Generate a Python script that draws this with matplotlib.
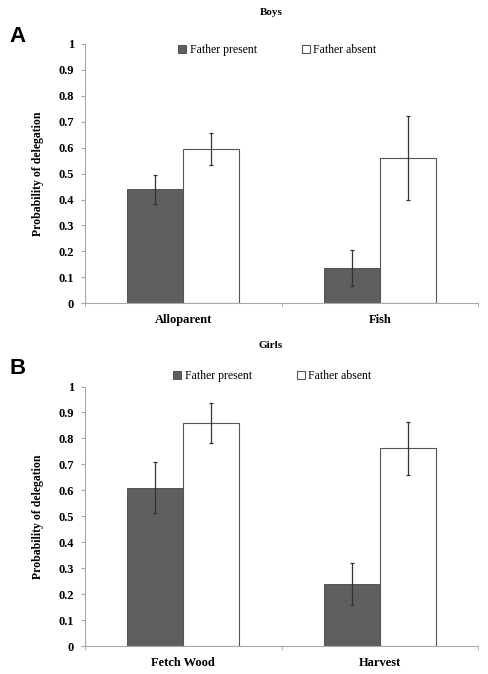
import numpy as np
import matplotlib.pyplot as plt

# Dados
cats_boys = ['Alloparent', 'Fish']
boys_present = [0.44, 0.137]
boys_present_lo = [0.383, 0.067]
boys_present_hi = [0.493, 0.205]
boys_absent = [0.595, 0.56]
boys_absent_lo = [0.533, 0.398]
boys_absent_hi = [0.655, 0.722]

cats_girls = ['Fetch Wood', 'Harvest']
girls_present = [0.61, 0.24]
girls_present_lo = [0.511, 0.157]
girls_present_hi = [0.708, 0.32]
girls_absent = [0.861, 0.762]
girls_absent_lo = [0.781, 0.659]
girls_absent_hi = [0.936, 0.865]

yticks = [0, 0.1, 0.2, 0.3, 0.4, 0.5, 0.6, 0.7, 0.8, 0.9, 1]
ytick_labels = ['0', '0.1', '0.2', '0.3', '0.4', '0.5', '0.6', '0.7', '0.8', '0.9', '1']

plt.rcParams['font.family'] = ['Liberation Serif', 'DejaVu Serif']

fig = plt.figure(figsize=(4.88, 6.74), dpi=100)


def painel(rect, cats, pres, pres_lo, pres_hi, aus, aus_lo, aus_hi, titulo, letra,
           ytitle, yletra, leg_xy):
    ax = fig.add_axes(rect)
    x = np.arange(len(cats))
    w = 0.285
    err_p = [np.array(pres) - np.array(pres_lo), np.array(pres_hi) - np.array(pres)]
    err_a = [np.array(aus) - np.array(aus_lo), np.array(aus_hi) - np.array(aus)]
    ax.bar(x - w / 2, pres, w, color='#5f5f5f', edgecolor='#444444', linewidth=0.6,
           label='Father present')
    ax.bar(x + w / 2, aus, w, color='white', edgecolor='#555555', linewidth=0.8,
           label='Father absent')
    ax.errorbar(x - w / 2, pres, yerr=err_p, fmt='none', ecolor='#333333',
                elinewidth=0.9, capsize=1.5, capthick=0.9)
    ax.errorbar(x + w / 2, aus, yerr=err_a, fmt='none', ecolor='#333333',
                elinewidth=0.9, capsize=1.5, capthick=0.9)

    ax.set_xlim(-0.5, len(cats) - 0.5)
    ax.set_ylim(0, 1)
    ax.set_yticks(yticks)
    ax.set_yticklabels(ytick_labels, fontsize=9, fontweight='bold')
    ax.set_xticks(x)
    ax.set_xticklabels(cats, fontsize=9, fontweight='bold')
    ax.tick_params(axis='x', length=0, pad=8)
    ax.set_xticks([-0.5, 0.5, 1.5], minor=True)
    ax.tick_params(axis='x', which='minor', length=3, color='#aaaaaa')
    ax.tick_params(axis='y', length=3, color='#aaaaaa', pad=5)
    ax.spines['top'].set_visible(False)
    ax.spines['right'].set_visible(False)
    ax.spines['left'].set_color('#aaaaaa')
    ax.spines['bottom'].set_color('#aaaaaa')
    ax.set_ylabel('Probability of delegation', fontsize=8.5, fontweight='bold', labelpad=10)

    fig.text(0.555, ytitle, titulo, ha='center', va='center', fontsize=8, fontweight='bold')
    fig.text(0.02, yletra, letra, ha='left', va='center', fontsize=16,
             fontweight='bold', family='Liberation Sans')
    ax.legend(loc='center', bbox_to_anchor=leg_xy, ncol=2, frameon=False,
              fontsize=8.5, handlelength=0.7, handleheight=0.7, handletextpad=0.3,
              columnspacing=3.8)
    return ax


painel([0.174, 0.550, 0.806, 0.385], cats_boys, boys_present, boys_present_lo,
       boys_present_hi, boys_absent, boys_absent_lo, boys_absent_hi,
       'Boys', 'A', 0.982, 0.946, (0.489, 0.977))
painel([0.174, 0.0415, 0.806, 0.385], cats_girls, girls_present, girls_present_lo,
       girls_present_hi, girls_absent, girls_absent_lo, girls_absent_hi,
       'Girls', 'B', 0.487, 0.454, (0.476, 1.039))

fig.savefig('out.png', dpi=100)
